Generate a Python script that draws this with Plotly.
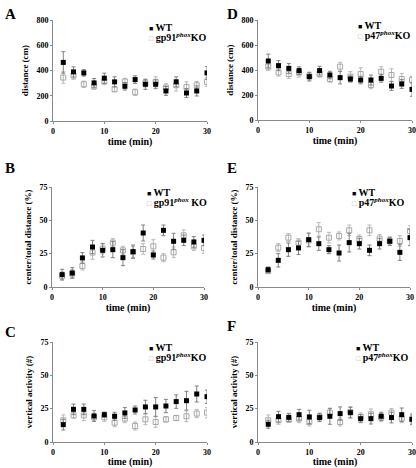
import plotly.graph_objects as go

time = [2, 4, 6, 8, 10, 12, 14, 16, 18, 20, 22, 24, 26, 28, 30]
x_ticks = [0, 10, 20, 30]
dist_ticks = [0, 200, 400, 600, 800]
pct_ticks = [0, 25, 50, 75]

# Panel A: distance (cm), gp91
a_wt = [464, 389, 381, 302, 339, 310, 275, 328, 291, 291, 238, 310, 222, 238, 381]
a_wt_err = [85, 40, 25, 35, 40, 40, 30, 30, 40, 35, 35, 40, 35, 40, 50]
a_ko = [344, 360, 291, 275, 313, 252, 313, 228, 300, 310, 265, 283, 270, 283, 310]
a_ko_err = [45, 30, 25, 25, 25, 20, 25, 25, 30, 40, 30, 45, 40, 30, 35]

# Panel D: distance (cm), p47
d_wt = [472, 435, 413, 395, 347, 395, 360, 339, 328, 320, 320, 333, 272, 288, 245]
d_wt_err = [55, 40, 40, 30, 35, 35, 30, 50, 25, 30, 40, 30, 35, 35, 55]
d_ko = [427, 381, 368, 379, 350, 368, 328, 427, 347, 368, 280, 387, 360, 328, 320]
d_ko_err = [30, 30, 35, 35, 30, 25, 25, 35, 40, 50, 30, 40, 50, 45, 30]

# Panel B: center/total distance (%), gp91
b_wt = [9.3, 10.5, 21.8, 30, 27.5, 28, 22, 26.5, 40.5, 24, 42.5, 34.3, 35, 33.8, 35]
b_wt_err = [4, 4, 4, 5, 5, 6, 6, 5, 6, 3, 4, 6, 4, 4, 4]
b_ko = [8.3, 10, 15.8, 25.8, 28.8, 33.3, 27.5, 26.3, 28.5, 30.5, 22, 26, 38.8, 30.5, 29.3]
b_ko_err = [3, 3, 3, 5, 4, 3, 3, 4, 4, 5, 3, 4, 4, 3, 4]

# Panel E: center/total distance (%), p47
e_wt = [13, 20, 28, 29.3, 35.5, 32.5, 28, 25.5, 33.3, 32.5, 27.5, 32.5, 34.3, 26, 37]
e_wt_err = [2, 5, 5, 5, 5, 5, 3, 6, 7, 4, 4, 4, 3, 6, 6]
e_ko = [12, 29.5, 37, 33.3, 35, 43.3, 37, 38.3, 42.5, 36, 42.5, 36.3, 34.5, 34.5, 42]
e_ko_err = [2, 3, 3, 3, 5, 5, 4, 3, 4, 3, 4, 3, 3, 4, 4]

# Panel C: vertical activity (#), gp91
c_wt = [13, 24.5, 24.5, 19.5, 20.5, 19.3, 21.8, 24, 26.3, 26.3, 27, 30.3, 31, 36, 34]
c_wt_err = [4, 4, 4, 4, 2, 3, 4, 3, 5, 7, 5, 5, 7, 6, 5]
c_ko = [16.3, 20, 20, 18.5, 18.5, 14.5, 17.5, 12, 17, 15, 17, 18, 19.3, 21.3, 22]
c_ko_err = [4, 2, 4, 3, 3, 3, 3, 3, 4, 4, 2, 2, 4, 3, 4]

# Panel F: vertical activity (#), p47
f_wt = [13.3, 19, 18.5, 20.5, 18.8, 18.3, 19.3, 21.3, 22, 17.5, 17.5, 19.3, 18.3, 20.5, 17]
f_wt_err = [3, 4, 3, 4, 5, 3, 6, 5, 4, 3, 4, 3, 4, 5, 4]
f_ko = [16.3, 16.3, 16.8, 17.5, 15, 18.8, 22, 15, 22.5, 18.8, 20.8, 18.3, 22, 17.5, 17]
f_ko_err = [4, 3, 2, 3, 3, 3, 3, 3, 4, 3, 4, 3, 3, 3, 3]

W, H = 416, 468
FONT = "Liberation Serif, Times New Roman, DejaVu Serif, serif"

panels = [
    # letter, wt, wterr, ko, koerr, ko label, ytitle, yticks, plot box px, letter pos, legend pos (marker x, WT y, KO y)
    ("A", a_wt, a_wt_err, a_ko, a_ko_err, "gp91<sup><i>phox</i></sup>KO", "distance (cm)", dist_ticks, (53, 207, 20, 121), (3, 4), (150, 27, 37)),
    ("D", d_wt, d_wt_err, d_ko, d_ko_err, "p47<sup><i>phox</i></sup>KO", "distance (cm)", dist_ticks, (258, 412, 20, 120), (225, 4), (359, 25, 35)),
    ("B", b_wt, b_wt_err, b_ko, b_ko_err, "gp91<sup><i>phox</i></sup> KO", "center/total distance (%)", pct_ticks, (52, 204, 187, 287), (3, 158), (148, 192, 202)),
    ("E", e_wt, e_wt_err, e_ko, e_ko_err, "p47<sup><i>phox</i></sup>KO", "center/total distance (%)", pct_ticks, (258, 410, 187, 287), (225, 158), (353, 192, 202)),
    ("C", c_wt, c_wt_err, c_ko, c_ko_err, "gp91<sup><i>phox</i></sup>KO", "vertical activity (#)", pct_ticks, (53, 207, 342, 442), (3, 322), (150, 347, 357)),
    ("F", f_wt, f_wt_err, f_ko, f_ko_err, "p47<sup><i>phox</i></sup>KO", "vertical activity (#)", pct_ticks, (258, 412, 342, 442), (225, 316), (357, 347, 357)),
]

fig = go.Figure()
layout = dict(
    template="none",
    width=W, height=H,
    margin=dict(l=0, r=0, t=0, b=0, autoexpand=False),
    paper_bgcolor="white", plot_bgcolor="white",
    font=dict(family=FONT, color="#000000"),
    showlegend=False,
    annotations=[],
)

for i, (letter, wt, wte, ko, koe, kolab, ytitle, yticks, box, lpos, legpos) in enumerate(panels):
    x0, x1, y0, y1 = box
    n = i + 1
    xa = "x" if n == 1 else f"x{n}"
    ya = "y" if n == 1 else f"y{n}"
    fig.add_trace(go.Scatter(
        x=time, y=ko, mode="markers", name=kolab,
        marker=dict(symbol="square-open", size=5, color="#a8a8a8", line=dict(width=1)),
        error_y=dict(type="data", array=koe, color="#b8b8b8", thickness=1, width=2),
        xaxis=xa, yaxis=ya,
    ))
    fig.add_trace(go.Scatter(
        x=time, y=wt, mode="markers", name="WT",
        marker=dict(symbol="square", size=5, color="black"),
        error_y=dict(type="data", array=wte, color="#808080", thickness=1, width=2),
        xaxis=xa, yaxis=ya,
    ))
    axis_common = dict(
        showline=True, linecolor="#8a8a8a", linewidth=1,
        ticks="outside", ticklen=2, tickcolor="#8a8a8a", tickwidth=1,
        showgrid=False, zeroline=False, automargin=False,
        tickfont=dict(family=FONT, size=8, color="rgb(0,0,0)"),
    )
    layout["xaxis" if n == 1 else f"xaxis{n}"] = dict(
        domain=[x0 / W, x1 / W], anchor=ya, range=[x_ticks[0], x_ticks[-1]],
        tickmode="array", tickvals=x_ticks, ticktext=[f"<b>{v}</b>" for v in x_ticks],
        title=dict(text="<b>time (min)</b>", font=dict(family=FONT, size=10, color="#000000"), standoff=3),
        **axis_common,
    )
    layout["yaxis" if n == 1 else f"yaxis{n}"] = dict(
        domain=[1 - y1 / H, 1 - y0 / H], anchor=xa, range=[yticks[0], yticks[-1]],
        tickmode="array", tickvals=yticks, ticktext=[f"<b>{v}</b>" for v in yticks],
        title=dict(text=f"<b>{ytitle}</b>", font=dict(family=FONT, size=9, color="#000000"), standoff=6),
        **axis_common,
    )
    layout["annotations"].append(dict(
        text=f"<b>{letter}</b>", x=lpos[0] / W, y=1 - lpos[1] / H,
        xref="paper", yref="paper", xanchor="left", yanchor="top",
        showarrow=False, font=dict(family=FONT, size=15, color="black"),
    ))
    mx, wy, ky = legpos
    layout["annotations"].append(dict(
        text="<b><span style='font-size:7px'>■</span> WT</b>",
        x=(mx - 3) / W, y=1 - wy / H, xref="paper", yref="paper",
        xanchor="left", yanchor="middle", showarrow=False,
        font=dict(family=FONT, size=10, color="black"),
    ))
    layout["annotations"].append(dict(
        text=f"<b><span style='font-size:7px;color:#a8a8a8'>□</span> {kolab}</b>",
        x=(mx - 3) / W, y=1 - ky / H, xref="paper", yref="paper",
        xanchor="left", yanchor="middle", showarrow=False,
        font=dict(family=FONT, size=10, color="black"),
    ))

fig.update_layout(**layout)
fig.write_html(
    "out.html",
    config={"displayModeBar": False},
    post_script="document.body.style.margin='0';document.body.style.overflow='hidden';",
)
